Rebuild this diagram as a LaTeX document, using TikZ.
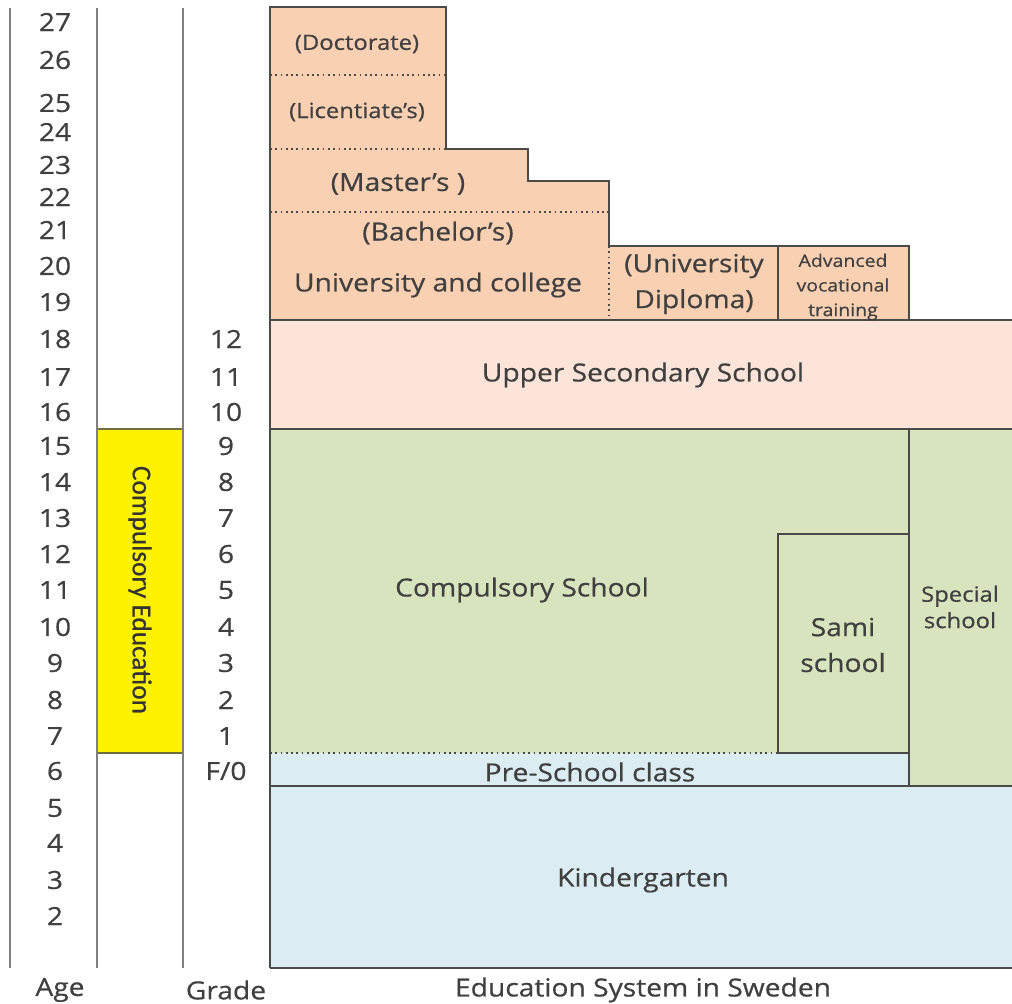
\documentclass[tikz,border=0pt]{standalone}
\usepackage{fontspec}
\setmainfont{Open Sans}[FakeStretch=1.13, FakeBold=0.6]
\newfontfamily\narrowfont{Carlito}[FakeBold=0.6]
\definecolor{uni}{HTML}{F9D0B1}
\definecolor{upper}{HTML}{FCE5D8}
\definecolor{comp}{HTML}{D8E4BE}
\definecolor{pre}{HTML}{DBECF3}
\definecolor{edge}{HTML}{4A4A48}
\definecolor{txt}{HTML}{404040}
\definecolor{rulegray}{HTML}{7F7F7F}

\begin{document}
\begin{tikzpicture}[x=0.02cm, y=-0.02cm,
	box/.style={draw=edge, line width=1pt},
	dots/.style={draw=edge, line width=1pt, dotted},
	rule/.style={draw=rulegray, line width=1.6pt},
	lbl/.style={text=txt, align=center, inner sep=0pt, font=\fontsize{14.2}{20.4}\selectfont},
	small/.style={lbl, font=\fontsize{12}{15}\selectfont},
	tiny/.style={lbl, font=\fontsize{9.8}{14}\selectfont}]
	\useasboundingbox (0,0) rectangle (1012,1004);

	% fills
	\fill[upper] (270,320) rectangle (1030,429);
	\fill[uni] (270,320) -- (270,7) -- (446,7) -- (446,149) -- (528,149) -- (528,181) -- (609,181) -- (609,246) -- (909,246) -- (909,320) -- cycle;
	\fill[comp] (270,429) rectangle (1030,786);
	\fill[pre] (270,753) rectangle (909,786);
	\fill[pre] (270,786) rectangle (1030,968);

	% university outline
	\draw[box] (270,320) -- (270,7) -- (446,7) -- (446,149) -- (528,149) -- (528,181) -- (609,181) -- (609,246) -- (909,246) -- (909,320);
	\draw[dots] (270,75) -- (446,75);
	\draw[dots] (270,149) -- (446,149);
	\draw[dots] (270,212) -- (609,212);
	\draw[dots] (609,246) -- (609,320);
	\draw[box] (778,246) -- (778,320);

	% school blocks
	\draw[box] (270,320) -- (270,968);
	\draw[box] (270,320) -- (1030,320);
	\draw[box] (270,429) -- (1030,429);
	\draw[box] (909,429) -- (909,786);
	\draw[box] (778,753) -- (778,534) -- (909,534);
	\draw[box] (778,753) -- (909,753);
	\draw[dots] (270,753) -- (778,753);
	\draw[box] (270,786) -- (1030,786);
	\draw[box] (270,968) -- (1030,968);

	% side columns
	\draw[draw=edge!80!yellow, line width=0.8pt, fill=yellow] (97,429) rectangle (183,753);
	\draw[rule] (10,8) -- (10,968);
	\draw[rule] (97,8) -- (97,968);
	\draw[rule] (183,8) -- (183,968);

	\node[lbl, rotate=-90, text=black!80, font=\narrowfont\fontsize{15.5}{18}\selectfont] (compedu) at (140,590) {Compulsory Education};

	\foreach \a/\y in {27/22, 26/60, 25/103, 24/132, 23/165, 22/197, 21/230, 20/266, 19/302,
		18/339, 17/377, 16/412, 15/446, 14/482, 13/518, 12/554, 11/590, 10/627, 9/663,
		8/700, 7/736, 6/771, 5/808, 4/843, 3/880, 2/916}
		\node[lbl] (age\a) at (55,\y) {\a};
	\foreach \g/\y in {12/339, 11/377, 10/412, 9/446, 8/482, 7/518, 6/554, 5/590,
		4/627, 3/663, 2/700, 1/736}
		\node[lbl] (grade\g) at (226,\y) {\g};
	\node[lbl] (grade0) at (226,771) {F/0};

	% labels
	\node[small] (doct) at (357,44) {(Doctorate)};
	\node[small] (lic) at (357,112) {(Licentiate's)};
	\node[lbl] (master) at (398,184) {(Master's )};
	\node[lbl] (bach) at (438,233) {(Bachelor's)};
	\node[lbl] (univ) at (438,285) {University and college};
	\node[lbl] (dipl) at (694,284) {(University\\Diploma)};
	\node[tiny] (avt) at (843,287) {Advanced\\vocational\\training};
	\node[lbl] (upsec) at (643,375) {Upper Secondary School};
	\node[lbl] (compsch) at (522,590) {Compulsory School};
	\node[lbl] (sami) at (843,645) {Sami\\school};
	\node[small] (special) at (960,607) {Special\\school};
	\node[lbl] (presch) at (590,772) {Pre-School class};
	\node[lbl] (kinder) at (643,880) {Kindergarten};

	\node[lbl] (agelbl) at (60,990) {Age};
	\node[lbl] (gradelbl) at (226,990) {Grade};
	\node[lbl] (title) at (643,990) {Education System in Sweden};
\end{tikzpicture}
\end{document}
